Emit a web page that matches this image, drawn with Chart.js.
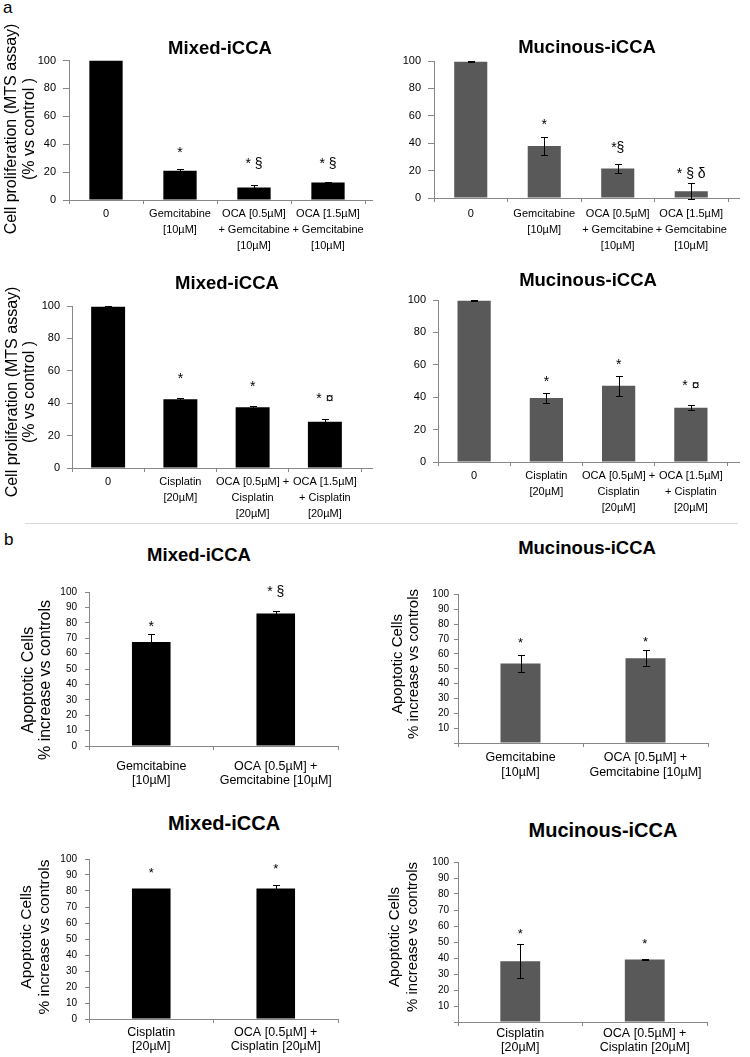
<!DOCTYPE html>
<html>
<head>
<meta charset="utf-8">
<script src="https://cdn.jsdelivr.net/npm/chart.js@4.4.1/dist/chart.umd.min.js"></script>
<style>
  body { margin: 0; background: #fff; width: 750px; height: 1057px; position: relative; overflow: hidden;
         font-family: "Liberation Sans", Arial, sans-serif; }
  canvas { position: absolute; }
  .title { position: absolute; font-weight: bold; transform: translate(-50%, -50%); white-space: nowrap; color: #000; }
  .letter { position: absolute; font-size: 17px; color: #000; line-height: 1; }
  .sep { position: absolute; left: 25px; top: 523px; width: 713px; height: 1px; background: #d9d9d9; }
</style>
</head>
<body>
<div class="letter" style="left:3px;top:-1px;">a</div>
<div class="letter" style="left:4px;top:531px;">b</div>
<div class="sep"></div>

<script>
// ---- categories ----
const gemLabels = ["0", ["Gemcitabine", "[10µM]"], ["OCA [0.5µM]", "+ Gemcitabine", "[10µM]"], ["OCA [1.5µM]", "+ Gemcitabine", "[10µM]"]];
const cisLabels = ["0", ["Cisplatin", "[20µM]"], ["OCA [0.5µM] +", "Cisplatin", "[20µM]"], ["OCA [1.5µM]", "+ Cisplatin", "[20µM]"]];
const apoGemLabels = [["Gemcitabine", "[10µM]"], ["OCA [0.5µM] +", "Gemcitabine [10µM]"]];
const apoCisLabels = [["Cisplatin", "[20µM]"], ["OCA [0.5µM] +", "Cisplatin [20µM]"]];

// ---- a: cell proliferation (MTS assay) ----
const mixedGemValues = [100, 21, 9, 12.5];
const mixedGemErrors = [0, 1.5, 2, 0.3];
const mixedGemMarks = ["", "*", "* §", "* §"];
const mixedGemMarkLevels = [null, 36, 26, 26];

const mucGemValues = [99.5, 38, 21.5, 5];
const mucGemErrors = [0.5, 6.5, 3, 6];
const mucGemMarks = ["", "*", "*§", "* § δ"];
const mucGemMarkLevels = [null, 56, 37, 18];

const mixedCisValues = [99.5, 42.5, 37.5, 28.5];
const mixedCisErrors = [0.4, 0.7, 0.5, 2];
const mixedCisMarks = ["", "*", "*", "* ¤"];
const mixedCisMarkLevels = [null, 57, 52, 43];

const mucCisValues = [99.5, 39.5, 47, 33.5];
const mucCisErrors = [0.4, 3, 6, 1.5];
const mucCisMarks = ["", "*", "*", "* ¤"];
const mucCisMarkLevels = [null, 51.5, 62, 47];

// ---- b: apoptotic cells ----
const mixedApoGemValues = [67.5, 86];
const mixedApoGemErrors = [5, 1.7];
const mixedApoGemMarks = ["*", "* §"];
const mixedApoGemMarkLevels = [80, 100];

const mucApoGemValues = [53.5, 57];
const mucApoGemErrors = [6, 5.4];
const mucApoGemMarks = ["*", "*"];
const mucApoGemMarkLevels = [69.5, 70];

const mixedApoCisValues = [81.5, 81.5];
const mixedApoCisErrors = [0, 2.3];
const mixedApoCisMarks = ["*", "*"];
const mixedApoCisMarkLevels = [93, 96];

const mucApoCisValues = [38, 39];
const mucApoCisErrors = [10.7, 0.5];
const mucApoCisMarks = ["*", "*"];
const mucApoCisMarkLevels = [57, 51];

const BLACK = "#000000";
const GREY = "#595959";
const AXIS = "#878787";
const FONT = '"Liberation Sans", Arial, sans-serif';

const mtsTitle = ["Cell proliferation (MTS assay)", "(% vs control )"];
const apoTitle = ["Apoptotic Cells", "% increase vs controls"];

// layout: box = canvas [x, y, w, h], area = plot [left, top, right, bottom] in page pixels
const panels = [
  { box: [0, 12, 375, 250], area: [69, 60.5, 365, 200], axisEnd: 373, labels: gemLabels, values: mixedGemValues, errors: mixedGemErrors,
    marks: mixedGemMarks, levels: mixedGemMarkLevels, color: BLACK, step: 20, tickSize: 11, tickPad: 7, tickLen: 6,
    barPct: 0.45, xSize: 11, xPad: 2, xLine: 1.45, markSize: 14, yTitle: mtsTitle, yTitleX: [12, 30], yTitleY: 129, yTitleSize: 16,
    title: "Mixed-iCCA", titleXY: [220, 47.5], titleSize: 18.5 },
  { box: [375, 30, 375, 232], area: [434, 61, 728, 198], axisEnd: 740, labels: gemLabels, values: mucGemValues, errors: mucGemErrors,
    marks: mucGemMarks, levels: mucGemMarkLevels, color: GREY, step: 20, tickSize: 11, tickPad: 7, tickLen: 6,
    barPct: 0.45, xSize: 11, xPad: 4, xLine: 1.45, markSize: 14, yTitle: null,
    title: "Mucinous-iCCA", titleXY: [587, 47], titleSize: 18.5 },
  { box: [0, 270, 375, 252], area: [72, 306, 361, 468], axisEnd: 373, labels: cisLabels, values: mixedCisValues, errors: mixedCisErrors,
    marks: mixedCisMarks, levels: mixedCisMarkLevels, color: BLACK, step: 20, tickSize: 11, tickPad: 7, tickLen: 5,
    barPct: 0.47, xSize: 11, xPad: 2, xLine: 1.45, markSize: 14, yTitle: mtsTitle, yTitleX: [13, 30], yTitleY: 392, yTitleSize: 16,
    title: "Mixed-iCCA", titleXY: [227, 283], titleSize: 18.5 },
  { box: [375, 285, 375, 237], area: [438, 300, 727, 462], axisEnd: 740, labels: cisLabels, values: mucCisValues, errors: mucCisErrors,
    marks: mucCisMarks, levels: mucCisMarkLevels, color: GREY, step: 20, tickSize: 11, tickPad: 7, tickLen: 5,
    barPct: 0.46, xSize: 11, xPad: 2, xLine: 1.45, markSize: 14, yTitle: null,
    title: "Mucinous-iCCA", titleXY: [588, 280], titleSize: 18.5 },
  { box: [0, 575, 375, 215], area: [89, 592, 338, 746], labels: apoGemLabels, values: mixedApoGemValues, errors: mixedApoGemErrors,
    marks: mixedApoGemMarks, levels: mixedApoGemMarkLevels, color: BLACK, step: 10, tickSize: 10, tickPad: 8, tickLen: 4,
    barPct: 0.31, xSize: 12.5, xPad: 9, xLine: 1.15, markSize: 14, yTitle: apoTitle, yTitleX: [29, 46], yTitleY: 680, yTitleSize: 16,
    title: "Mixed-iCCA", titleXY: [199, 555], titleSize: 18.5 },
  { box: [375, 575, 375, 215], area: [458, 594.5, 708, 743], labels: apoGemLabels, values: mucApoGemValues, errors: mucApoGemErrors,
    marks: mucApoGemMarks, levels: mucApoGemMarkLevels, color: GREY, step: 10, tickSize: 10, tickPad: 5, tickLen: 4, hideZero: true,
    barPct: 0.32, xSize: 12.5, xPad: 3, xLine: 1.2, markSize: 13, yTitle: apoTitle, yTitleX: [398, 414], yTitleY: 664, yTitleSize: 15,
    title: "Mucinous-iCCA", titleXY: [587, 548], titleSize: 18.5 },
  { box: [0, 845, 375, 212], area: [89, 859, 338, 1019], labels: apoCisLabels, values: mixedApoCisValues, errors: mixedApoCisErrors,
    marks: mixedApoCisMarks, levels: mixedApoCisMarkLevels, color: BLACK, step: 10, tickSize: 10, tickPad: 8, tickLen: 4,
    barPct: 0.31, xSize: 12.5, xPad: 2, xLine: 1.15, markSize: 13, yTitle: apoTitle, yTitleX: [27, 45], yTitleY: 937, yTitleSize: 15.5,
    title: "Mixed-iCCA", titleXY: [224, 823], titleSize: 20 },
  { box: [375, 845, 375, 212], area: [458, 862, 707, 1022], labels: apoCisLabels, values: mucApoCisValues, errors: mucApoCisErrors,
    marks: mucApoCisMarks, levels: mucApoCisMarkLevels, color: GREY, step: 10, tickSize: 10, tickPad: 5, tickLen: 4, hideZero: true,
    barPct: 0.32, xSize: 12.5, xPad: 0, xLine: 1.15, markSize: 13, yTitle: apoTitle, yTitleX: [395, 413], yTitleY: 937, yTitleSize: 15,
    title: "Mucinous-iCCA", titleXY: [603, 830], titleSize: 20 },
];

// error bars (over the bars), significance marks, rotated y title, axis run-out
function makeExtras(p) {
  return {
    id: "extras",
    afterDatasetsDraw(chart) {
      const ctx = chart.ctx;
      const yScale = chart.scales.y;
      const meta = chart.getDatasetMeta(0);
      ctx.save();
      ctx.strokeStyle = "#000";
      ctx.lineWidth = 1;
      p.values.forEach((v, i) => {
        const e = p.errors[i];
        if (!e) return;
        const x = Math.round(meta.data[i].x) + 0.5;
        const yt = Math.round(yScale.getPixelForValue(v + e)) + 0.5;
        const yb = Math.round(yScale.getPixelForValue(v - e)) + 0.5;
        ctx.beginPath();
        ctx.moveTo(x, yt); ctx.lineTo(x, yb);
        ctx.moveTo(x - 3.5, yt); ctx.lineTo(x + 3.5, yt);
        ctx.moveTo(x - 3.5, yb); ctx.lineTo(x + 3.5, yb);
        ctx.stroke();
      });
      ctx.restore();
    },
    afterDraw(chart) {
      const ctx = chart.ctx;
      const yScale = chart.scales.y;
      const meta = chart.getDatasetMeta(0);
      const area = chart.chartArea;
      ctx.save();
      // excel-style x axis runs a little past the last category
      if (p.axisEnd) {
        const y = Math.round(yScale.getPixelForValue(0)) + 0.5;
        ctx.strokeStyle = AXIS;
        ctx.lineWidth = 1;
        ctx.beginPath();
        ctx.moveTo(area.right, y);
        ctx.lineTo(p.axisEnd - p.box[0], y);
        ctx.stroke();
      }
      ctx.fillStyle = "#000";
      ctx.textAlign = "center";
      ctx.textBaseline = "alphabetic";
      ctx.font = p.markSize + "px " + FONT;
      p.marks.forEach((m, i) => {
        if (!m) return;
        const x = meta.data[i].x;
        const shift = (m === "*" ? 0.55 : 0.3) * p.markSize;
        ctx.fillText(m, x, yScale.getPixelForValue(p.levels[i]) + shift);
      });
      if (p.yTitle) {
        ctx.font = p.yTitleSize + "px " + FONT;
        ctx.textBaseline = "middle";
        p.yTitle.forEach((line, i) => {
          ctx.save();
          ctx.translate(p.yTitleX[i] - p.box[0], p.yTitleY - p.box[1]);
          ctx.rotate(-Math.PI / 2);
          ctx.fillText(line, 0, 0);
          ctx.restore();
        });
      }
      ctx.restore();
    },
  };
}

panels.forEach((p) => {
  const [bx, by, bw, bh] = p.box;
  const [l, t, r, b] = p.area;

  const canvas = document.createElement("canvas");
  canvas.width = bw;
  canvas.height = bh;
  canvas.style.left = bx + "px";
  canvas.style.top = by + "px";
  document.body.appendChild(canvas);

  const title = document.createElement("div");
  title.className = "title";
  title.textContent = p.title;
  title.style.left = p.titleXY[0] + "px";
  title.style.top = p.titleXY[1] + "px";
  title.style.fontSize = p.titleSize + "px";
  document.body.appendChild(title);

  new Chart(canvas.getContext("2d"), {
    type: "bar",
    data: {
      labels: p.labels,
      datasets: [{
        data: p.values,
        backgroundColor: p.color,
        borderWidth: 0,
        categoryPercentage: 1,
        barPercentage: p.barPct,
      }],
    },
    options: {
      responsive: false,
      animation: false,
      devicePixelRatio: 1,
      layout: { padding: { top: t - by, right: bx + bw - r, left: 0, bottom: 0 } },
      plugins: { legend: { display: false }, tooltip: { enabled: false } },
      scales: {
        x: {
          offset: true,
          grid: { display: true, drawOnChartArea: false, drawTicks: true, tickLength: 4, color: AXIS, offset: true },
          border: { display: true, color: AXIS, width: 1 },
          ticks: { color: "#000", padding: p.xPad, maxRotation: 0, autoSkip: false,
                   font: { family: FONT, size: p.xSize, lineHeight: p.xLine } },
          afterFit: (s) => { s.height = by + bh - b; },
        },
        y: {
          min: 0,
          max: 100,
          grid: { display: true, drawOnChartArea: false, drawTicks: true, tickLength: p.tickLen, color: AXIS },
          border: { display: true, color: AXIS, width: 1 },
          ticks: {
            stepSize: p.step,
            autoSkip: false,
            color: "#000",
            padding: p.tickPad,
            font: { family: FONT, size: p.tickSize },
            callback: (v) => (p.hideZero && v === 0 ? "" : v),
          },
          afterFit: (s) => { s.width = l - bx; },
        },
      },
    },
    plugins: [makeExtras(p)],
  });
});
</script>
</body>
</html>
